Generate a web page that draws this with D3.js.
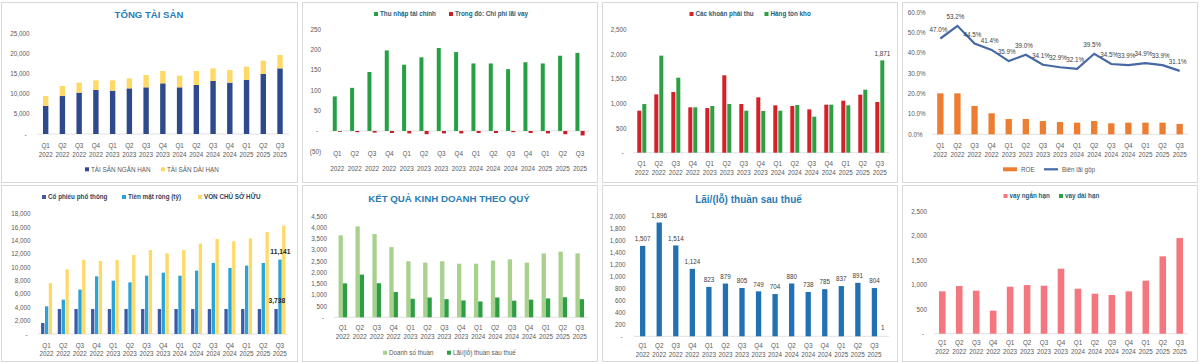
<!DOCTYPE html>
<html><head><meta charset="utf-8">
<script src="https://cdn.jsdelivr.net/npm/d3@7"></script>
<style>
body{margin:0;background:#fff;}
svg text{font-family:"Liberation Sans",Arial,sans-serif;}
</style>
</head><body>
<svg id="c" width="1200" height="363"></svg>
<script>
// ---------------- DATA ----------------
const quarters = ["Q1","Q2","Q3","Q4","Q1","Q2","Q3","Q4","Q1","Q2","Q3","Q4","Q1","Q2","Q3"];
const years    = ["2022","2022","2022","2022","2023","2023","2023","2023","2024","2024","2024","2024","2025","2025","2025"];

// Panel 1: TỔNG TÀI SẢN
const taiSanNganHan = [6950, 9400, 10230, 10890, 10730, 11300, 11550, 12540, 11550, 12130, 13120, 12700, 13370, 14850, 16250];
const taiSanDaiHan  = [2450, 2480, 2470, 2390, 2550, 2480, 3050, 3050, 2890, 3460, 3130, 3140, 3300, 3300, 3300];
const ticks1 = [0, 5000, 10000, 15000, 20000, 25000];

// Panel 2: Thu nhập tài chính / Chi phí lãi vay
const thuNhapTaiChinh = [85, 106, 145, 198, 163, 181, 204, 194, 166, 166, 152, 169, 166, 185, 192];
const chiPhiLaiVay    = [-2, -3, -4, -5, -6, -8, -6, -6, -5, -5, -3, -5, -6, -8, -11];
const ticks2 = [-50, 0, 50, 100, 150, 200, 250];

// Panel 3: Các khoản phải thu / Hàng tồn kho
const khoanPhaiThu = [851, 1182, 1230, 919, 905, 1568, 986, 1122, 960, 946, 878, 973, 1054, 1176, 1027];
const hangTonKho   = [986, 1966, 1520, 919, 946, 986, 851, 845, 851, 966, 730, 973, 960, 1277, 1871];
const ticks3 = [0, 500, 1000, 1500, 2000, 2500];

// Panel 4: ROE / Biên lãi gộp
const roe        = [0.201, 0.201, 0.139, 0.103, 0.075, 0.075, 0.065, 0.060, 0.057, 0.065, 0.054, 0.057, 0.057, 0.057, 0.051];
const bienLaiGop = [0.470, 0.532, 0.445, 0.414, 0.359, 0.390, 0.341, 0.329, 0.321, 0.395, 0.345, 0.339, 0.349, 0.339, 0.311];
const ticks4 = [0, 0.1, 0.2, 0.3, 0.4, 0.5, 0.6];

// Panel 5: Cổ phiếu phổ thông / Tiền mặt ròng / Vốn chủ sở hữu
const coPhieuPhoThong = [1650, 3738, 3738, 3738, 3738, 3738, 3738, 3738, 3738, 3738, 3738, 3738, 3738, 3738, 3738];
const tienMatRong     = [4140, 5140, 6640, 8630, 7980, 7730, 8730, 9180, 8730, 9480, 10630, 9880, 10230, 10630, 11141];
const vonChuSoHuu     = [7630, 9680, 11080, 10930, 11080, 11830, 12570, 12080, 12570, 13520, 14220, 13870, 14320, 15270, 16220];
const ticks5 = [0, 2000, 4000, 6000, 8000, 10000, 12000, 14000, 16000, 18000];

// Panel 6: Kết quả kinh doanh theo quý
const doanhSoThuan = [3640, 4040, 3700, 3120, 2490, 2430, 2490, 2380, 2380, 2520, 2575, 2430, 2840, 2915, 2840];
const laiThuanSauThue = [1507, 1896, 1514, 1124, 823, 879, 805, 749, 704, 880, 738, 785, 837, 891, 804];
const ticks6 = [0, 500, 1000, 1500, 2000, 2500, 3000, 3500, 4000, 4500];

// Panel 7: Lãi/(lỗ) thuần sau thuế (same series) + stray label
const ticks7 = [0, 200, 400, 600, 800, 1000, 1200, 1400, 1600, 1800, 2000];
const extraLabel7 = "1";

// Panel 8: Vay ngắn hạn / Vay dài hạn
const vayNganHan = [865, 974, 878, 470, 960, 994, 980, 1328, 919, 817, 790, 865, 1083, 1580, 1954];
const vayDaiHan  = [0, 0, 0, 0, 0, 0, 0, 0, 0, 0, 0, 0, 0, 0, 0];
const ticks8 = [0, 500, 1000, 1500, 2000, 2500];

// ---------------- HELPERS ----------------
const svg = d3.select("#c");
const FS = 6.3;
const TICK_COLOR = "#595959";
const TITLE_COLOR = "#2A7DB5";
const LEG_BOLD = "#245E7A";
const idx = d3.range(quarters.length);
const fmtNum = v => v === 0 ? "-" : (v < 0 ? "(" + d3.format(",")(-v) + ")" : d3.format(",")(v));
const fmtPct = v => d3.format(".1%")(v);

// Panel frames
const frames = [
  [1,2,296,180],[302,2,295,180],[602,2,295,180],[902,2,295,180],
  [1,185,296,176],[302,185,295,176],[602,185,295,176],[902,185,295,176]
];
frames.forEach(f => svg.append("rect").attr("x", f[0]+0.5).attr("y", f[1]+0.5)
  .attr("width", f[2]).attr("height", f[3]).attr("fill", "#fff").attr("stroke", "#d9d9d9").attr("stroke-width", 1));

function panel(col, row) {
  return svg.append("g").attr("transform", `translate(${col*300},${row*182})`);
}
function yAxis(g, y, ticks, fmt, xRight) {
  const ax = d3.axisLeft(y).tickValues(ticks).tickFormat(fmt).tickSize(0).tickPadding(0);
  const a = g.append("g").attr("transform", `translate(${xRight},0)`).call(ax);
  a.select(".domain").remove();
  a.selectAll("text").attr("font-size", FS).attr("fill", TICK_COLOR)
    .attr("font-family", "Liberation Sans, Arial, sans-serif")
    .attr("dx", d => d === 0 ? -3 : 0);
}
function xAxis(g, x, yq, yy, baseY, x0, x1) {
  g.append("line").attr("x1", x0).attr("x2", x1).attr("y1", baseY).attr("y2", baseY)
    .attr("stroke", "#d9d9d9").attr("stroke-width", 0.8);
  const c = i => x(i) + x.bandwidth()/2;
  g.selectAll(null).data(idx).join("text").attr("x", c).attr("y", yq).attr("dy", "0.35em")
    .attr("text-anchor", "middle").attr("font-size", FS).attr("fill", TICK_COLOR).text(i => quarters[i]);
  g.selectAll(null).data(idx).join("text").attr("x", c).attr("y", yy).attr("dy", "0.35em")
    .attr("text-anchor", "middle").attr("font-size", FS).attr("fill", TICK_COLOR).text(i => years[i]);
}
function bars(g, x, y, values, offset, width, color) {
  g.selectAll(null).data(idx).join("rect")
    .attr("x", i => x(i) + x.bandwidth()/2 + offset - width/2)
    .attr("y", i => Math.min(y(values[i]), y(0)))
    .attr("width", width)
    .attr("height", i => Math.abs(y(values[i]) - y(0)))
    .attr("fill", color);
}
function title(g, txt, cx, cy, size) {
  g.append("text").attr("x", cx).attr("y", cy).attr("dy", "0.35em").attr("text-anchor", "middle")
    .attr("font-size", size).attr("font-weight", "bold").attr("fill", TITLE_COLOR).text(txt);
}
function legendItem(g, x, y, color, txt, bold, textColor, kind) {
  if (kind === "line") {
    g.append("line").attr("x1", x).attr("x2", x+14).attr("y1", y).attr("y2", y).attr("stroke", color).attr("stroke-width", 2.2);
    x += 18;
  } else if (kind === "wide") {
    g.append("rect").attr("x", x).attr("y", y-2).attr("width", 14).attr("height", 4).attr("fill", color);
    x += 18;
  } else {
    g.append("rect").attr("x", x).attr("y", y-2).attr("width", 4).attr("height", 4).attr("fill", color);
    x += 6;
  }
  g.append("text").attr("x", x).attr("y", y).attr("dy", "0.35em").attr("font-size", FS)
    .attr("font-weight", bold ? "bold" : "normal").attr("fill", textColor).text(txt);
}

// ---------------- PANEL 1 ----------------
{
  const g = panel(0, 0);
  const x = d3.scaleBand().domain(idx).range([37.3, 288.4]);
  const y = d3.scaleLinear().domain([0, 25000]).range([134, 33]);
  title(g, "TỔNG TÀI SẢN", 149, 15, 9.6);
  yAxis(g, y, ticks1, fmtNum, 29.5);
  xAxis(g, x, 145.7, 155, 134, 37, 289);
  const w = 5.4;
  bars(g, x, y, taiSanNganHan, 0, w, "#2E4A8C");
  g.selectAll(null).data(idx).join("rect")
    .attr("x", i => x(i) + x.bandwidth()/2 - w/2)
    .attr("y", i => y(taiSanNganHan[i] + taiSanDaiHan[i]))
    .attr("width", w)
    .attr("height", i => y(taiSanNganHan[i]) - y(taiSanNganHan[i] + taiSanDaiHan[i]))
    .attr("fill", "#FFD966");
  legendItem(g, 85, 169.3, "#2E4A8C", "TÀI SẢN NGẮN HẠN", false, TICK_COLOR);
  legendItem(g, 161, 169.3, "#FFD966", "TÀI SẢN DÀI HẠN", false, TICK_COLOR);
}

// ---------------- PANEL 2 ----------------
{
  const g = panel(1, 0);
  const x = d3.scaleBand().domain(idx).range([28.7, 288.7]);
  const y = d3.scaleLinear().domain([-50, 250]).range([151.3, 29.3]);
  yAxis(g, y, ticks2, fmtNum, 21);
  xAxis(g, x, 154, 169, y(0), 29, 289);
  bars(g, x, y, thuNhapTaiChinh, -2.6, 4, "#27A045");
  bars(g, x, y, chiPhiLaiVay, 2.6, 4, "#C81E2A");
  legendItem(g, 74, 14, "#27A045", "Thu nhập tài chính", true, LEG_BOLD);
  legendItem(g, 149, 14, "#C81E2A", "Trong đó: Chi phí lãi vay", true, LEG_BOLD);
}

// ---------------- PANEL 3 ----------------
{
  const g = panel(2, 0);
  const x = d3.scaleBand().domain(idx).range([33.3, 288.3]);
  const y = d3.scaleLinear().domain([0, 2500]).range([152.7, 29.3]);
  yAxis(g, y, ticks3, fmtNum, 26.5);
  xAxis(g, x, 163.3, 172.3, 152.7, 33, 289);
  bars(g, x, y, khoanPhaiThu, -2.5, 4, "#D42027");
  bars(g, x, y, hangTonKho, 2.5, 4, "#2EA043");
  const last = idx.length - 1;
  g.append("text").attr("x", x(last) + x.bandwidth()/2 + 2.5).attr("y", y(hangTonKho[last]) - 7)
    .attr("text-anchor", "middle").attr("dy", "0.35em").attr("font-size", FS).attr("fill", "#404040")
    .text(d3.format(",")(hangTonKho[last]));
  legendItem(g, 89.5, 14, "#D42027", "Các khoản phải thu", true, LEG_BOLD);
  legendItem(g, 164.5, 14, "#2EA043", "Hàng tồn kho", true, LEG_BOLD);
}

// ---------------- PANEL 4 ----------------
{
  const g = panel(3, 0);
  const x = d3.scaleBand().domain(idx).range([31.8, 288.2]);
  const y = d3.scaleLinear().domain([0, 0.6]).range([134.3, 12]);
  yAxis(g, y, ticks4, fmtPct, 25.5);
  xAxis(g, x, 145.7, 155, 134.3, 32, 288);
  bars(g, x, y, roe, 0, 6.3, "#ED7D31");
  const c = i => x(i) + x.bandwidth()/2;
  const line = d3.line().x(c).y(i => y(bienLaiGop[i]));
  g.append("path").datum(idx).attr("d", line).attr("fill", "none").attr("stroke", "#4668A4").attr("stroke-width", 2.2);
  g.selectAll(null).data(idx).join("text").attr("x", i => c(i) - 2).attr("y", i => y(bienLaiGop[i]) - 9)
    .attr("dy", "0.35em").attr("text-anchor", "middle").attr("font-size", FS).attr("fill", "#404040")
    .text(i => fmtPct(bienLaiGop[i]));
  legendItem(g, 103, 169.3, "#ED7D31", "ROE", false, TICK_COLOR, "wide");
  legendItem(g, 144, 169.3, "#4668A4", "Biên lãi gộp", false, TICK_COLOR, "line");
}

// ---------------- PANEL 5 ----------------
{
  const g = panel(0, 1);
  const x = d3.scaleBand().domain(idx).range([38.2, 288.2]);
  const y = d3.scaleLinear().domain([0, 18000]).range([152, 31.7]);
  yAxis(g, y, ticks5, fmtNum, 30.5);
  xAxis(g, x, 163.3, 171.7, 152, 38, 288);
  bars(g, x, y, coPhieuPhoThong, -3.8, 3.3, "#3B5BA5");
  bars(g, x, y, tienMatRong, 0.1, 3.3, "#2AA3D8");
  bars(g, x, y, vonChuSoHuu, 3.9, 3.3, "#FFD966");
  const last = idx.length - 1;
  const cl = x(last) + x.bandwidth()/2;
  g.append("text").attr("x", cl + 0.5).attr("y", y(tienMatRong[last]) - 7.5).attr("dy", "0.35em")
    .attr("text-anchor", "middle").attr("font-size", FS+0.4).attr("font-weight", "bold").attr("fill", "#262626")
    .text(d3.format(",")(tienMatRong[last]));
  g.append("text").attr("x", cl - 3).attr("y", y(coPhieuPhoThong[last]) - 8.5).attr("dy", "0.35em")
    .attr("text-anchor", "middle").attr("font-size", FS+0.4).attr("font-weight", "bold").attr("fill", "#262626")
    .text(d3.format(",")(coPhieuPhoThong[last]));
  legendItem(g, 42, 15, "#3B5BA5", "Cổ phiếu phổ thông", true, "#2F3F5F");
  legendItem(g, 122, 15, "#2AA3D8", "Tiền mặt ròng (tỷ)", true, "#2F3F5F");
  legendItem(g, 198, 15, "#FFD966", "VỐN CHỦ SỞ HỮU", true, "#2F3F5F");
}

// ---------------- PANEL 6 ----------------
{
  const g = panel(1, 1);
  const x = d3.scaleBand().domain(idx).range([34.4, 288.2]);
  const y = d3.scaleLinear().domain([0, 4500]).range([135.3, 34]);
  title(g, "KẾT QUẢ KINH DOANH THEO QUÝ", 149, 16.7, 9.7);
  yAxis(g, y, ticks6, fmtNum, 27);
  xAxis(g, x, 145.7, 155, 135.3, 34, 288);
  bars(g, x, y, doanhSoThuan, -2.15, 4.3, "#A9D18E");
  bars(g, x, y, laiThuanSauThue, 2.15, 4.3, "#2E9E44");
  legendItem(g, 83, 170.7, "#A9D18E", "Doanh số thuần", false, TICK_COLOR);
  legendItem(g, 147, 170.7, "#2E9E44", "Lãi/(lỗ) thuần sau thuế", false, TICK_COLOR);
}

// ---------------- PANEL 7 ----------------
{
  const g = panel(2, 1);
  const x = d3.scaleBand().domain(idx).range([34.4, 282.7]);
  const y = d3.scaleLinear().domain([0, 2000]).range([154.3, 34.3]);
  title(g, "Lãi/(lỗ) thuần sau thuế", 148.5, 17.3, 10);
  yAxis(g, y, ticks7, fmtNum, 25.5);
  xAxis(g, x, 163.3, 172.3, 154.3, 34, 289);
  bars(g, x, y, laiThuanSauThue, 0, 5.3, "#2271B3");
  g.selectAll(null).data(idx).join("text").attr("x", i => x(i) + x.bandwidth()/2)
    .attr("y", i => y(laiThuanSauThue[i]) - 7).attr("dy", "0.35em").attr("text-anchor", "middle")
    .attr("font-size", FS).attr("fill", "#404040").text(i => d3.format(",")(laiThuanSauThue[i]));
  g.append("text").attr("x", 282.7).attr("y", 145.7).attr("dy", "0.35em").attr("text-anchor", "middle")
    .attr("font-size", FS).attr("fill", "#404040").text(extraLabel7);
}

// ---------------- PANEL 8 ----------------
{
  const g = panel(3, 1);
  const x = d3.scaleBand().domain(idx).range([33.8, 288.2]);
  const y = d3.scaleLinear().domain([0, 2500]).range([151.7, 29.3]);
  yAxis(g, y, ticks8, fmtNum, 27);
  xAxis(g, x, 161, 170, 151.7, 34, 288);
  bars(g, x, y, vayNganHan, 0, 6.6, "#F4777F");
  bars(g, x, y, vayDaiHan, 3.3, 3.3, "#2E9E44");
  legendItem(g, 103.5, 14, "#F4777F", "vay ngắn hạn", true, LEG_BOLD);
  legendItem(g, 159, 14, "#2E9E44", "vay dài hạn", true, LEG_BOLD);
}
</script>
</body></html>
